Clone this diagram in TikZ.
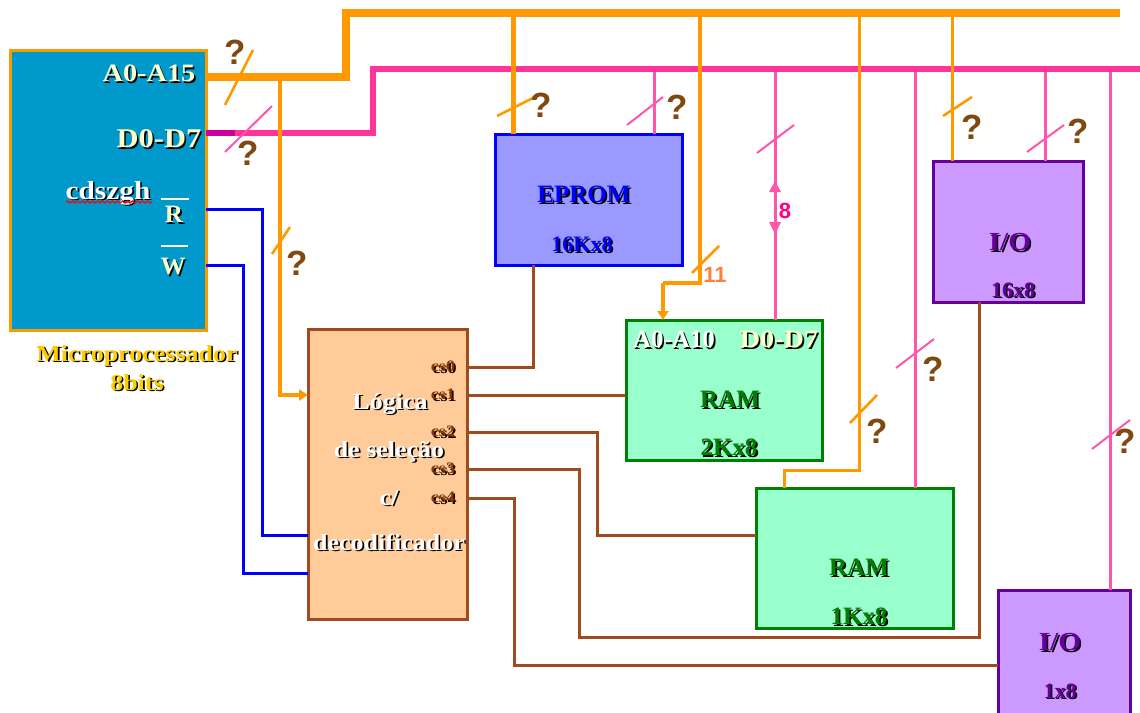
\documentclass[tikz,border=0pt]{standalone}
\usepackage{fontspec}
\setmainfont{Liberation Serif}
\newfontfamily\qfont{Liberation Sans}
\newfontfamily\widefont[FakeStretch=1.13]{Liberation Serif}
\usetikzlibrary{arrows.meta,decorations.pathmorphing}
\definecolor{busO}{HTML}{FF9900}
\definecolor{busP}{HTML}{FF3399}
\definecolor{lineP}{HTML}{FF55AA}
\definecolor{busPd}{HTML}{CC0099}
\definecolor{cpuB}{HTML}{0099CC}
\definecolor{brn}{HTML}{A04A1E}
\definecolor{csbrn}{HTML}{8A3500}
\definecolor{qbrown}{HTML}{7F4A0F}
\definecolor{cream}{HTML}{FFFFCC}
\definecolor{ygold}{HTML}{FFCC00}
\definecolor{darkG}{HTML}{008000}
\definecolor{lblue}{HTML}{9999FF}
\definecolor{lgreen}{HTML}{99FFCC}
\definecolor{lpurple}{HTML}{CC99FF}
\definecolor{dpurple}{HTML}{660099}
\definecolor{lorange}{HTML}{FFCC99}
\newcommand\shad[3]{\makebox[0pt][l]{\hspace{1.6pt}\raisebox{-1.6pt}{\textcolor{#1}{#3}}}\textcolor{#2}{#3}}
\newcommand\fsz[1]{\fontsize{#1}{#1}\selectfont\bfseries}
\tikzset{
  x=1pt,y=-1pt,
  block/.style={draw,line width=3pt,anchor=north west,inner sep=0pt,outer sep=0pt},
  lbl/.style={inner sep=0pt,outer sep=0pt,text height=0.7em,text depth=0.2em},
  big/.style={lbl,yshift=-6pt,font=\fsz{25}},
  mid/.style={lbl,yshift=-5.5pt,font=\widefont\fsz{23}},
  cslbl/.style={lbl,yshift=-2pt,font=\widefont\fsz{16}},
  qm/.style={lbl,yshift=-9.5pt,font=\qfont\fsz{35},text=qbrown},
  num/.style={lbl,yshift=-6pt,font=\qfont\fsz{22}},
  fatO/.style={draw=busO,line width=8pt,line join=miter},
  fatP/.style={draw=busP,line width=6pt,line join=miter},
  thinO/.style={draw=busO,line width=3.5pt},
  thinP/.style={draw=lineP,line width=3pt},
  tickO/.style={draw=busO,line width=2.6pt},
  tickP/.style={draw=lineP,line width=2pt},
  bwire/.style={draw=brn,line width=3pt},
  blwire/.style={draw=blue,line width=3pt},
  tip/.style={-{Triangle[length=9pt,width=11pt]}},
}
\begin{document}
\begin{tikzpicture}
\useasboundingbox (0,0) rectangle (1140,712);
% blocks
\node[block,draw=busO,fill=cpuB,minimum width=196pt,minimum height=280pt] (cpu) at (10,50) {};
\node[block,draw=brn,fill=lorange,minimum width=159pt,minimum height=290pt] (sel) at (308,329) {};
\node[block,draw=blue,fill=lblue,minimum width=187pt,minimum height=131pt] (eprom) at (495,134) {};
\node[block,draw=darkG,fill=lgreen,minimum width=196pt,minimum height=140pt] (ram2) at (626,320) {};
\node[block,draw=darkG,fill=lgreen,minimum width=197pt,minimum height=140pt] (ram1) at (756,488) {};
\node[block,draw=dpurple,fill=lpurple,minimum width=150pt,minimum height=141pt] (io16) at (933,161) {};
\node[block,draw=dpurple,fill=lpurple,minimum width=132pt,minimum height=130pt] (io1) at (998,590) {};
% free ends of buses
\coordinate (aend) at (1120,13);
\coordinate (dend) at (1140,69);
% wires from selector
\draw[bwire] (sel.east |- 0,367) -| (533,265) -- (eprom.south -| 533,0);
\draw[bwire] (sel.east |- 0,395) -- (ram2.west |- 0,395);
\draw[bwire] (sel.east |- 0,432) -- (597,432) -- (597,535) -- (ram1.west |- 0,535);
\draw[bwire] (sel.east |- 0,469) -- (579,469) -- (579,637) -- (979,637) -- (io16.south -| 979,0);
\draw[bwire] (sel.east |- 0,498) -- (514,498) -- (514,665) -- (io1.west |- 0,665);
% control wires
\draw[blwire] (cpu.east |- 0,209) -- (262,209) -- (262,535) -- (sel.west |- 0,535);
\draw[blwire] (cpu.east |- 0,265) -- (243,265) -- (243,573) -- (sel.west |- 0,573);
% data bus
\draw[thinP] (654,69) -- (eprom.north -| 654,0);
\draw[thinP] (775,69) -- (ram2.north -| 775,0);
\draw[thinP] (915,69) -- (ram1.north -| 915,0);
\draw[thinP] (1045,69) -- (io16.north -| 1045,0);
\draw[thinP] (1110,69) -- (io1.north -| 1110,0);
\fill[lineP] (775,181) -- (769,192) -- (781,192) -- cycle;
\fill[lineP] (775,234) -- (769,222) -- (781,222) -- cycle;
\draw[fatP] (cpu.east |- 0,133) -- (373,133) -- (373,69) -- (dend);
\draw[draw=busPd,line width=6pt] (cpu.east |- 0,133) -- (235,133);
% address bus
\draw[thinO,tip] (280,77) -- (280,395) -- (sel.west |- 0,395);
\draw[draw=busO,line width=5pt] (513,13) -- (eprom.north -| 513,0);
\draw[thinO] (700,13) -- (700,283) -- (663,283);
\draw[thinO,tip] (663,283) -- (ram2.north -| 663,0);
\draw[draw=busO,line width=3pt] (859,13) -- (859,470) -- (784,470) -- (ram1.north -| 784,0);
\draw[draw=busO,line width=3pt] (952,13) -- (io16.north -| 952,0);
\draw[fatO] (cpu.east |- 0,77) -- (346,77) -- (346,13) -- (aend);
% tick marks
\draw[tickO] (225,105) -- (253,50);
\draw[tickP] (225,152) -- (272,106);
\draw[tickO] (272,254) -- (290,227);
\draw[tickO] (497,116) -- (535,97);
\draw[tickP] (627,125) -- (663,97);
\draw[tickP] (757,153) -- (794,125);
\draw[tickO] (692,273) -- (719,246);
\draw[tickO] (850,423) -- (877,395);
\draw[tickP] (896,368) -- (934,339);
\draw[tickO] (943,116) -- (972,97);
\draw[tickP] (1027,152) -- (1064,125);
\draw[tickP] (1092,449) -- (1130,420);
% question marks and widths
\node[qm] (q1) at (235,52) {?};
\node[qm] (q2) at (248,153) {?};
\node[qm] (q3) at (297,263) {?};
\node[qm] (q4) at (541,105) {?};
\node[qm] (q5) at (677,107) {?};
\node[qm] (q6) at (972,127) {?};
\node[qm] (q7) at (1078,131) {?};
\node[qm] (q8) at (933,369) {?};
\node[qm] (q9) at (877,431) {?};
\node[qm] (q10) at (1125,441) {?};
\node[num,text={rgb,255:red,255;green,0;blue,128}] (n8) at (785,210) {8};
\node[num,text={rgb,255:red,255;green,128;blue,64}] (n11) at (715,274) {11};
% CPU labels
\node[big,font=\widefont\fsz{25}] (a15) at (149,73) {\shad{black}{cream}{A0-A15}};
\node[big,font=\widefont\fsz{27}] (d7) at (159,139) {\shad{black}{cream}{D0-D7}};
\node[mid,font=\widefont\fsz{26}] (cd) at (108,191) {\shad{black}{white}{cdszgh}};
\draw[red,line width=1.2pt,decorate,decoration={snake,amplitude=1pt,segment length=5pt}] (66,202) -- (152,202);
\node[big] (rr) at (174,214) {\shad{black}{cream}{R}};
\draw[cream,line width=2pt] (161,199) -- (189,199);
\node[big] (ww) at (173,266) {\shad{black}{cream}{W}};
\draw[white,line width=2.4pt] (161,246) -- (188,246);
\node[mid] (mp) at (137,353) {\shad{black}{ygold}{Microprocessador}};
\node[mid] (eb) at (137,382) {\shad{black}{ygold}{8bits}};
% selector labels
\node[mid] (s1) at (390,401) {\shad{black}{white}{Lógica}};
\node[mid] (s2) at (389,449) {\shad{black}{white}{de seleção}};
\node[mid] (s3) at (389,497) {\shad{black}{white}{c/}};
\node[mid] (s4) at (389,542) {\shad{black}{white}{decodificador}};
\node[cslbl] (c0) at (443,367) {\shad{black}{csbrn}{cs0}};
\node[cslbl] (c1) at (443,395) {\shad{black}{csbrn}{cs1}};
\node[cslbl] (c2) at (443,432) {\shad{black}{csbrn}{cs2}};
\node[cslbl] (c3) at (443,469) {\shad{black}{csbrn}{cs3}};
\node[cslbl] (c4) at (443,498) {\shad{black}{csbrn}{cs4}};
% memory labels
\node[big] (e1) at (584,194) {\shad{black}{blue}{EPROM}};
\node[big,font=\fsz{22}] (e2) at (582,243) {\shad{black}{blue}{16Kx8}};
\node[big] (r1) at (674,339) {\shad{black}{white}{A0-A10}};
\node[big,font=\widefont\fsz{25}] (r2) at (779,339) {\shad{black}{cream}{D0-D7}};
\node[big] (r3) at (730,399) {\shad{black}{darkG}{RAM}};
\node[big] (r4) at (729,447) {\shad{black}{darkG}{2Kx8}};
\node[big] (r5) at (859,567) {\shad{black}{darkG}{RAM}};
\node[big] (r6) at (859,616) {\shad{black}{darkG}{1Kx8}};
\node[big,font=\widefont\fsz{26}] (i1) at (1010,242) {\shad{black}{dpurple}{I/O}};
\node[mid,font=\fsz{22}] (i2) at (1013,289) {\shad{black}{dpurple}{16x8}};
\node[big,font=\widefont\fsz{26}] (i3) at (1060,642) {\shad{black}{dpurple}{I/O}};
\node[mid,font=\fsz{22}] (i4) at (1060,690) {\shad{black}{dpurple}{1x8}};
\end{tikzpicture}
\end{document}
